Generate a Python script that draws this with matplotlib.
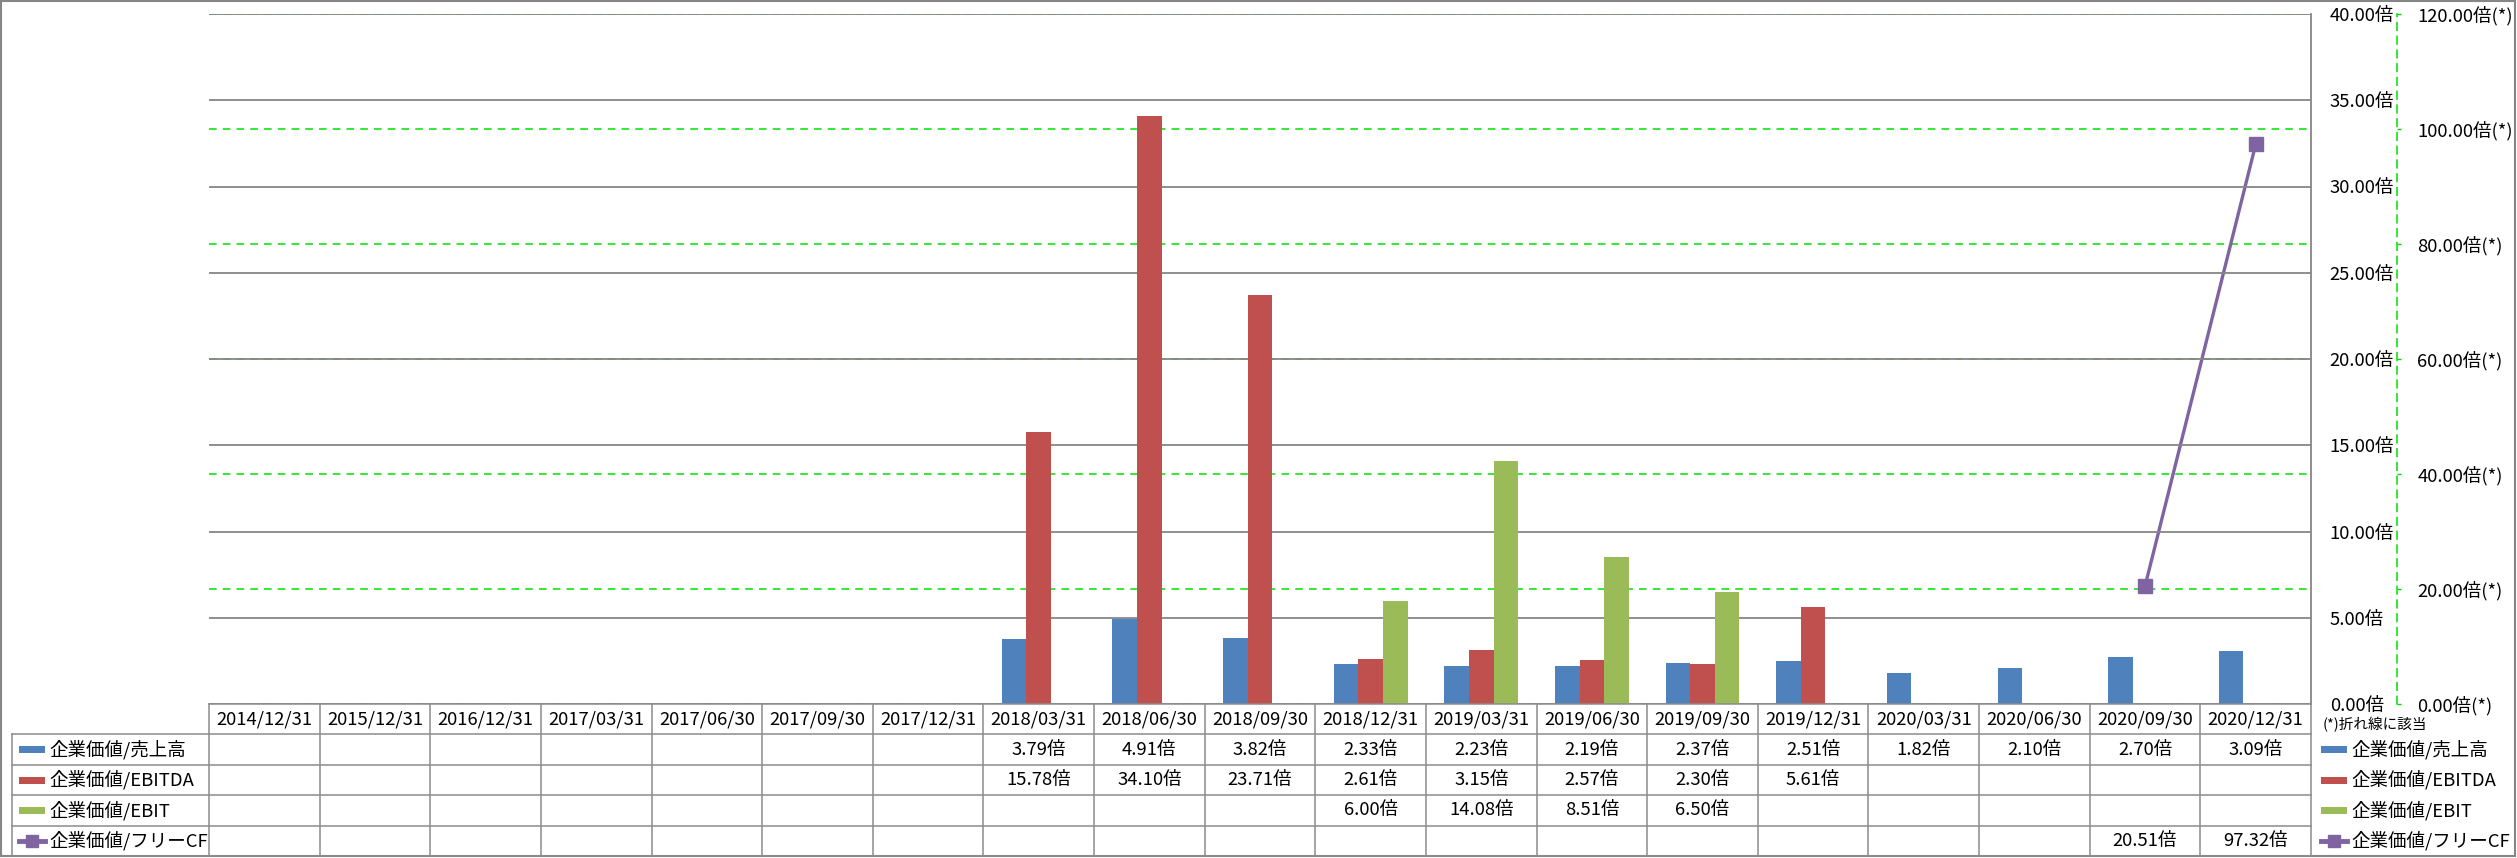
import matplotlib
matplotlib.use("Agg")
import matplotlib.pyplot as plt
import numpy as np
from matplotlib.patches import Rectangle
from matplotlib.lines import Line2D

plt.rcParams['font.family'] = ['Noto Sans CJK JP', 'DejaVu Sans']

# data
dates = ["2014/12/31", "2015/12/31", "2016/12/31", "2017/03/31", "2017/06/30",
         "2017/09/30", "2017/12/31", "2018/03/31", "2018/06/30", "2018/09/30",
         "2018/12/31", "2019/03/31", "2019/06/30", "2019/09/30", "2019/12/31",
         "2020/03/31", "2020/06/30", "2020/09/30", "2020/12/31"]
n_empty = 7
ev_sales = [None] * n_empty + [3.79, 4.91, 3.82, 2.33, 2.23, 2.19, 2.37, 2.51, 1.82, 2.10, 2.70, 3.09]
ev_ebitda = [None] * n_empty + [15.78, 34.10, 23.71, 2.61, 3.15, 2.57, 2.30, 5.61, None, None, None, None]
ev_ebit = [None] * 10 + [6.00, 14.08, 8.51, 6.50, None, None, None, None, None]
ev_fcf = [None] * 17 + [20.51, 97.32]

series_names = ["企業価値/売上高", "企業価値/EBITDA", "企業価値/EBIT", "企業価値/フリーCF"]
colors = ["#4F81BD", "#C0504D", "#9BBB59", "#8064A2"]

W, H = 2517, 858
fig = plt.figure(figsize=(W / 100, H / 100), dpi=100)

# pixel layout
px_left, px_right, px_top, px_bot = 209, 2311, 14, 704
tab_bot = 856
leg_left = 12
fs = 13.3

ax = fig.add_axes([px_left / W, 1 - px_bot / H, (px_right - px_left) / W, (px_bot - px_top) / H])
ax2 = ax.twinx()
ax.set_zorder(ax2.get_zorder() + 1)
ax.patch.set_visible(False)

x = np.arange(len(dates))
bw = 1 / 4.5

def to_arr(vals):
    return np.array([np.nan if v is None else v for v in vals], dtype=float)

for i, vals in enumerate([ev_sales, ev_ebitda, ev_ebit]):
    ax.bar(x + (i - 1) * bw, to_arr(vals), width=bw, color=colors[i], zorder=3)

ax.set_xlim(-0.5, len(dates) - 0.5)
ax.set_ylim(0, 40)
ax.set_yticks(np.arange(0, 41, 5))
ax.yaxis.tick_right()
ax.tick_params(axis='y', length=0, pad=13.5, labelsize=fs)
ax.set_yticklabels([f"{v:.2f}倍" for v in np.arange(0, 41, 5)])
ax.set_xticks([])
ax.grid(axis='y', color='#868686', lw=1.3, zorder=0)
for s in ['left', 'top', 'bottom']:
    ax.spines[s].set_visible(False)
ax.spines['right'].set_color('#868686')
ax.spines['right'].set_linewidth(1.3)

# secondary axis for free CF
ax2.plot(x, to_arr(ev_fcf), color=colors[3], lw=2.4, marker='s', markersize=10,
         markerfacecolor=colors[3], markeredgecolor=colors[3], zorder=4)
ax2.set_ylim(0, 120)
ax2.set_yticks(np.arange(0, 121, 20))
ax2.set_yticklabels([f"{v:.2f}倍(*)" for v in np.arange(0, 121, 20)])
ax2.tick_params(axis='y', length=3, width=1, color='#00E000', pad=11.5, labelsize=fs)
ax2.grid(axis='y', color='#00E000', lw=1.1, ls=(0, (5, 4)))
for s in ['left', 'top', 'bottom']:
    ax2.spines[s].set_visible(False)
ax2.spines['right'].set_position(('outward', 62))
ax2.spines['right'].set_color('#00E000')
ax2.spines['right'].set_linestyle((0, (5, 4)))
ax2.spines['right'].set_linewidth(1.1)

# overlay in pixel coords for the data table and legends
ov = fig.add_axes([0, 0, 1, 1], zorder=10)
ov.set_xlim(0, W)
ov.set_ylim(H, 0)
ov.axis('off')
ov.patch.set_visible(False)

gc = '#8C8C8C'
glw = 1.1
colw = (px_right - px_left) / len(dates)
row_y = np.linspace(px_bot, tab_bot, 6)

# horizontal lines
ov.plot([px_left, px_right], [row_y[0], row_y[0]], color=gc, lw=glw)
for yy in row_y[1:]:
    ov.plot([leg_left, px_right], [yy, yy], color=gc, lw=glw)
# vertical lines
ov.plot([leg_left, leg_left], [row_y[1], tab_bot], color=gc, lw=glw)
for i in range(len(dates) + 1):
    xx = px_left + i * colw
    ov.plot([xx, xx], [px_bot, tab_bot], color=gc, lw=glw)

# header
for i, d in enumerate(dates):
    ov.text(px_left + (i + 0.5) * colw, (row_y[0] + row_y[1]) / 2, d,
            ha='center', va='center', fontsize=fs)

# values
all_series = [ev_sales, ev_ebitda, ev_ebit, ev_fcf]
for r, vals in enumerate(all_series):
    yc = (row_y[r + 1] + row_y[r + 2]) / 2
    for i, v in enumerate(vals):
        if v is not None:
            ov.text(px_left + (i + 0.5) * colw, yc, f"{v:.2f}倍",
                    ha='center', va='center', fontsize=fs)

def legend_key(x0, yc, r):
    if r < 3:
        ov.add_patch(Rectangle((x0, yc - 3.5), 26, 7, color=colors[r], lw=0))
    else:
        ov.add_line(Line2D([x0, x0 + 26], [yc, yc], color=colors[r], lw=3.5))
        ov.plot([x0 + 13], [yc], marker='s', markersize=9, color=colors[r])

# left legend column
for r, name in enumerate(series_names):
    yc = (row_y[r + 1] + row_y[r + 2]) / 2
    legend_key(19, yc, r)
    ov.text(49, yc, name, ha='left', va='center', fontsize=fs)

# right legend
ov.text(2323, 725, "(*)折れ線に該当", ha='left', va='center', fontsize=10.5)
for r, name in enumerate(series_names):
    yc = (row_y[r + 1] + row_y[r + 2]) / 2
    legend_key(2321, yc, r)
    ov.text(2351, yc, name, ha='left', va='center', fontsize=fs)

# outer frame
ov.add_patch(Rectangle((1, 1), W - 3, H - 3, fill=False, ec='#868686', lw=1.5))

fig.savefig("out.png", dpi=100)
